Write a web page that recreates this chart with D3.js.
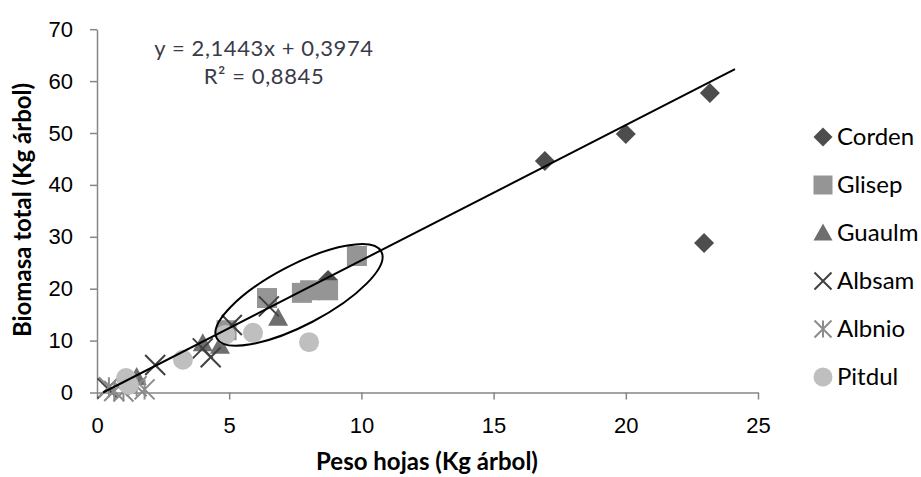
<!DOCTYPE html>
<html>
<head>
<meta charset="utf-8">
<script src="https://cdn.jsdelivr.net/npm/d3@7"></script>
<style>
  body { margin: 0; background: #fff; }
  svg { display: block; font-family: Lato, "Open Sans", sans-serif; }
  .axis path, .axis line { stroke: #868686; stroke-width: 1.5; }
  .axis text { fill: #000; font-size: 22px; }
</style>
</head>
<body>
<svg width="921" height="477"></svg>
<script>
// series data (Peso hojas, Biomasa total)
var seriesNames = ["Corden", "Glisep", "Guaulm", "Albsam", "Albnio", "Pitdul"];

var cordenX = [16.94, 20.0, 23.18, 22.96, 8.74];
var cordenY = [44.6, 49.8, 57.7, 28.8, 21.7];

var glisepX = [4.9, 6.43, 7.75, 8.06, 8.74, 9.83];
var glisepY = [12.0, 18.2, 19.2, 19.7, 19.7, 26.3];

var guaulmX = [1.5, 4.0, 4.65, 6.85];
var guaulmY = [3.0, 9.5, 9.0, 14.4];

var albsamX = [0.4, 2.2, 4.0, 4.3, 5.1, 6.5];
var albsamY = [0.8, 5.3, 8.5, 6.8, 13.0, 16.6];

var albnioX = [0.45, 0.65, 1.0, 1.5, 1.8];
var albnioY = [1.0, 0.3, 0.2, 1.2, 0.6];

var pitdulX = [1.1, 1.2, 3.25, 4.85, 5.9, 8.02];
var pitdulY = [2.8, 1.5, 6.3, 11.1, 11.5, 9.7];

// drawn line and equation text
var fitX = [0.23, 24.13];
var fitY = [0, 62.3];
var eqLines = ["y = 2,1443x + 0,3974", "R² = 0,8845"];

var xTicks = [0, 5, 10, 15, 20, 25];
var yTicks = [0, 10, 20, 30, 40, 50, 60, 70];

var svg = d3.select("svg");

var x = d3.scaleLinear().domain([0, 25]).range([97, 758]);
var y = d3.scaleLinear().domain([0, 70]).range([392.5, 29.2]);

// axes
svg.append("g")
  .attr("class", "axis")
  .attr("transform", "translate(0," + y(0) + ")")
  .call(d3.axisBottom(x).tickValues(xTicks).tickSize(7).tickSizeOuter(0).tickPadding(18));

svg.append("g")
  .attr("class", "axis")
  .attr("transform", "translate(" + x(0) + ",0)")
  .call(d3.axisLeft(y).tickValues(yTicks).tickSize(7).tickSizeOuter(0).tickPadding(17));

// axis titles
svg.append("text")
  .attr("x", 427).attr("y", 470)
  .attr("text-anchor", "middle")
  .style("font-size", "24px").style("font-weight", "bold")
  .text("Peso hojas (Kg árbol)");

svg.append("text")
  .attr("transform", "translate(31,210) rotate(-90)")
  .attr("text-anchor", "middle")
  .style("font-size", "24px").style("font-weight", "bold")
  .text("Biomasa total (Kg árbol)");

function zip(xs, ys) {
  return xs.map(function(v, i) { return { x: v, y: ys[i] }; });
}

var series = [
  { name: "Corden", pts: zip(cordenX, cordenY), shape: "diamond", color: "#4d4d4d" },
  { name: "Glisep", pts: zip(glisepX, glisepY), shape: "square", color: "#959595" },
  { name: "Guaulm", pts: zip(guaulmX, guaulmY), shape: "triangle", color: "#6e6e6e" },
  { name: "Albsam", pts: zip(albsamX, albsamY), shape: "x", color: "#404040" },
  { name: "Albnio", pts: zip(albnioX, albnioY), shape: "star", color: "#8c8c8c" },
  { name: "Pitdul", pts: zip(pitdulX, pitdulY), shape: "circle", color: "#bfbfbf" }
];

// draw one marker at (cx, cy) with size s
function marker(g, shape, color, cx, cy, s) {
  var h = s / 2;
  if (shape === "diamond") {
    g.append("path").attr("d", "M" + cx + "," + (cy - h) + "L" + (cx + h) + "," + cy +
      "L" + cx + "," + (cy + h) + "L" + (cx - h) + "," + cy + "Z").attr("fill", color);
  } else if (shape === "square") {
    g.append("rect").attr("x", cx - h).attr("y", cy - h).attr("width", s).attr("height", s).attr("fill", color);
  } else if (shape === "triangle") {
    g.append("path").attr("d", "M" + cx + "," + (cy - h) + "L" + (cx + h) + "," + (cy + h * 0.8) +
      "L" + (cx - h) + "," + (cy + h * 0.8) + "Z").attr("fill", color);
  } else if (shape === "circle") {
    g.append("circle").attr("cx", cx).attr("cy", cy).attr("r", h).attr("fill", color);
  } else if (shape === "x") {
    g.append("path").attr("d", "M" + (cx - h) + "," + (cy - h) + "L" + (cx + h) + "," + (cy + h) +
      "M" + (cx + h) + "," + (cy - h) + "L" + (cx - h) + "," + (cy + h))
      .attr("stroke", color).attr("stroke-width", 2).attr("fill", "none");
  } else if (shape === "star") {
    g.append("path").attr("d", "M" + (cx - h) + "," + (cy - h) + "L" + (cx + h) + "," + (cy + h) +
      "M" + (cx + h) + "," + (cy - h) + "L" + (cx - h) + "," + (cy + h) +
      "M" + cx + "," + (cy - h) + "L" + cx + "," + (cy + h))
      .attr("stroke", color).attr("stroke-width", 2).attr("fill", "none");
  }
}

var marks = svg.append("g");
series.forEach(function(s) {
  s.pts.forEach(function(p) {
    marker(marks, s.shape, s.color, x(p.x), y(p.y), 20);
  });
});

// line
svg.append("line")
  .attr("x1", x(fitX[0])).attr("y1", y(fitY[0]))
  .attr("x2", x(fitX[1])).attr("y2", y(fitY[1]))
  .attr("stroke", "#000").attr("stroke-width", 2);

// ellipse round the cluster
var ecx = 7.64, ecy = 18.8;
svg.append("ellipse")
  .attr("transform", "translate(" + x(ecx) + "," + y(ecy) + ") rotate(-27.7)")
  .attr("rx", 93).attr("ry", 30)
  .attr("fill", "none").attr("stroke", "#000").attr("stroke-width", 2);

// equation
svg.selectAll(".eq")
  .data(eqLines)
  .enter().append("text")
  .attr("class", "eq")
  .attr("x", 264)
  .attr("y", function(d, i) { return 56 + i * 28; })
  .attr("text-anchor", "middle")
  .style("font-size", "22px")
  .style("letter-spacing", "0.6px")
  .attr("fill", "#3a3a48")
  .text(function(d) { return d; });

// legend
var legend = svg.append("g");
series.forEach(function(s, i) {
  var ly = 137 + i * 48;
  marker(legend, s.shape, s.color, 823, ly, s.shape === "x" || s.shape === "star" ? 17 : 19);
  legend.append("text")
    .attr("x", 837).attr("y", ly)
    .attr("dy", "0.35em")
    .style("font-size", "24px")
    .text(s.name);
});
</script>
</body>
</html>
